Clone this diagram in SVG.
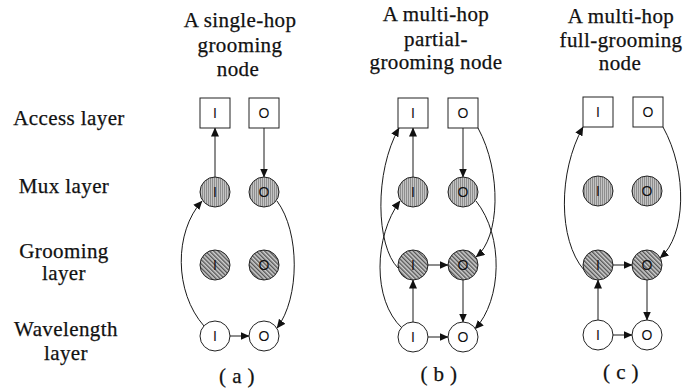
<svg xmlns="http://www.w3.org/2000/svg" width="694" height="391" viewBox="0 0 694 391">
  <style>
    .t { font-family: "Liberation Serif", "Times New Roman", serif; font-size: 21px; letter-spacing: 0.4px; fill: #111; stroke: #111; stroke-width: 0.25; text-anchor: middle; }
    .n { font-family: "Liberation Sans", Arial, sans-serif; font-size: 14px; fill: #111; text-anchor: middle; }
    .box { fill: #fff; stroke: #222; stroke-width: 1; }
    .mux { fill: url(#stipple); stroke: #222; stroke-width: 1; }
    .grm { fill: url(#hatch); stroke: #222; stroke-width: 1; }
    .wav { fill: #fff; stroke: #222; stroke-width: 1; }
    .c { fill: none; stroke: #1a1a1a; stroke-width: 1; marker-end: url(#arr); }
  </style>
  <defs>
    <!-- fine vertical stipple for the mux layer -->
    <pattern id="stipple" width="2" height="2" patternUnits="userSpaceOnUse">
      <rect width="2" height="2" fill="#c4c4c4"/>
      <rect width="1" height="2" fill="#8e8e8e"/>
    </pattern>
    <!-- diagonal hatch for the grooming layer -->
    <pattern id="hatch" width="3" height="3" patternUnits="userSpaceOnUse" patternTransform="rotate(-45)">
      <rect width="3" height="3" fill="#d0d0d0"/>
      <rect width="1.4" height="3" fill="#555"/>
    </pattern>
    <marker id="arr" markerWidth="9" markerHeight="8" refX="8.5" refY="4" orient="auto" markerUnits="userSpaceOnUse">
      <path d="M0,0 L9,4 L0,8 Z" fill="#111"/>
    </marker>
  </defs>

  <!-- layer labels -->
  <g id="layer-labels">
    <text class="t" x="69" y="125">Access layer</text>
    <text class="t" x="64" y="193">Mux layer</text>
    <text class="t" x="64" y="258">Grooming</text>
    <text class="t" x="64" y="280">layer</text>
    <text class="t" x="66" y="336">Wavelength</text>
    <text class="t" x="66" y="360">layer</text>
  </g>

  <!-- panel titles and captions -->
  <g id="titles">
    <text class="t" x="240" y="27">A single-hop</text>
    <text class="t" x="240" y="52">grooming</text>
    <text class="t" x="238" y="76">node</text>
    <text class="t" x="436" y="21">A multi-hop</text>
    <text class="t" x="436" y="46">partial-</text>
    <text class="t" x="436" y="69">grooming node</text>
    <text class="t" x="621" y="23">A multi-hop</text>
    <text class="t" x="621" y="47">full-grooming</text>
    <text class="t" x="620" y="70">node</text>
    <text class="t" x="237" y="383">( a )</text>
    <text class="t" x="439" y="381">( b )</text>
    <text class="t" x="621" y="379">( c )</text>
  </g>

  <!-- connectors -->
  <g id="connectors">
    <!-- (a) single-hop -->
    <path class="c" d="M215,177 L215,128"/>
    <path class="c" d="M264,128 L264,177"/>
    <path class="c" d="M230,336 L249,336"/>
    <path class="c" d="M204,326 C174,292 174,232 202,201"/>
    <path class="c" d="M277,201 C300,232 300,298 277,328"/>
    <!-- (b) partial grooming -->
    <path class="c" d="M413,177 L413,128"/>
    <path class="c" d="M463,128 L463,177"/>
    <path class="c" d="M428,265 L448,265"/>
    <path class="c" d="M463,280 L463,322"/>
    <path class="c" d="M413,322 L413,280"/>
    <path class="c" d="M428,337 L448,337"/>
    <path class="c" d="M402,328 C372,300 374,236 400,201"/>
    <path class="c" d="M398,268 C376,246 374,172 399,128"/>
    <path class="c" d="M476,201 C504,236 502,300 475,329"/>
    <path class="c" d="M478,128 C502,172 500,238 476,257"/>
    <!-- (c) full grooming -->
    <path class="c" d="M613,265 L632,265"/>
    <path class="c" d="M647,280 L647,320"/>
    <path class="c" d="M598,320 L598,280"/>
    <path class="c" d="M613,335 L632,335"/>
    <path class="c" d="M584,270 C558,240 558,172 583,127"/>
    <path class="c" d="M663,127 C688,172 686,236 660,258"/>
  </g>

  <!-- (a) nodes -->
  <g id="a-access-in"><rect class="box" x="200" y="98" width="30" height="30"/><text class="n" x="215" y="118">I</text></g>
  <g id="a-access-out"><rect class="box" x="249" y="98" width="30" height="30"/><text class="n" x="264" y="118">O</text></g>
  <g id="a-mux-in"><circle class="mux" cx="215" cy="192" r="15"/><text class="n" x="215" y="197">I</text></g>
  <g id="a-mux-out"><circle class="mux" cx="264" cy="192" r="15"/><text class="n" x="264" y="197">O</text></g>
  <g id="a-groom-in"><circle class="grm" cx="215" cy="265" r="15"/><text class="n" x="215" y="270">I</text></g>
  <g id="a-groom-out"><circle class="grm" cx="264" cy="265" r="15"/><text class="n" x="264" y="270">O</text></g>
  <g id="a-wave-in"><circle class="wav" cx="215" cy="336" r="15"/><text class="n" x="215" y="341">I</text></g>
  <g id="a-wave-out"><circle class="wav" cx="264" cy="336" r="15"/><text class="n" x="264" y="341">O</text></g>

  <!-- (b) nodes -->
  <g id="b-access-in"><rect class="box" x="398" y="98" width="30" height="30"/><text class="n" x="413" y="118">I</text></g>
  <g id="b-access-out"><rect class="box" x="448" y="98" width="30" height="30"/><text class="n" x="463" y="118">O</text></g>
  <g id="b-mux-in"><circle class="mux" cx="413" cy="192" r="15"/><text class="n" x="413" y="197">I</text></g>
  <g id="b-mux-out"><circle class="mux" cx="463" cy="192" r="15"/><text class="n" x="463" y="197">O</text></g>
  <g id="b-groom-in"><circle class="grm" cx="413" cy="265" r="15"/><text class="n" x="413" y="270">I</text></g>
  <g id="b-groom-out"><circle class="grm" cx="463" cy="265" r="15"/><text class="n" x="463" y="270">O</text></g>
  <g id="b-wave-in"><circle class="wav" cx="413" cy="337" r="15"/><text class="n" x="413" y="342">I</text></g>
  <g id="b-wave-out"><circle class="wav" cx="463" cy="337" r="15"/><text class="n" x="463" y="342">O</text></g>

  <!-- (c) nodes -->
  <g id="c-access-in"><rect class="box" x="583" y="97" width="30" height="30"/><text class="n" x="598" y="117">I</text></g>
  <g id="c-access-out"><rect class="box" x="633" y="97" width="30" height="30"/><text class="n" x="648" y="117">O</text></g>
  <g id="c-mux-in"><circle class="mux" cx="598" cy="191" r="15"/><text class="n" x="598" y="196">I</text></g>
  <g id="c-mux-out"><circle class="mux" cx="647" cy="191" r="15"/><text class="n" x="647" y="196">O</text></g>
  <g id="c-groom-in"><circle class="grm" cx="598" cy="265" r="15"/><text class="n" x="598" y="270">I</text></g>
  <g id="c-groom-out"><circle class="grm" cx="647" cy="265" r="15"/><text class="n" x="647" y="270">O</text></g>
  <g id="c-wave-in"><circle class="wav" cx="598" cy="335" r="15"/><text class="n" x="598" y="340">I</text></g>
  <g id="c-wave-out"><circle class="wav" cx="647" cy="335" r="15"/><text class="n" x="647" y="340">O</text></g>
</svg>
